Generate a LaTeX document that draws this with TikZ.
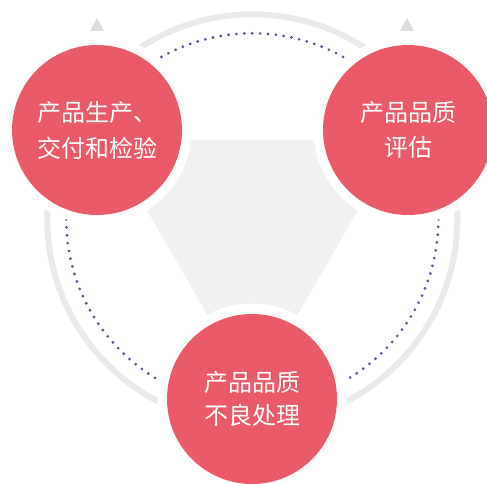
\documentclass[tikz,border=0pt]{standalone}
\usepackage{fontspec}
\newfontfamily\cjk{Noto Sans CJK SC}
\definecolor{petal}{HTML}{EA5A69}
\definecolor{ringgray}{HTML}{EAEAE9}
\definecolor{trigray}{HTML}{F1F1F1}
\definecolor{markgray}{HTML}{DCDCDA}
\definecolor{dotpurple}{HTML}{5A5890}
\begin{document}
\begin{tikzpicture}[x=1pt,y=-1pt,
  petalnode/.style={circle, fill=petal, minimum size=170pt, inner sep=0pt, text=white, align=center},
  ringline/.style={draw=ringgray, line width=6pt},
  dotline/.style={draw=dotpurple, line width=3.1pt, line cap=round, dash pattern=on 0pt off 7.9pt},
  halo/.style={fill=white},
  tipmark/.style={fill=markgray}]
\useasboundingbox (0,0) rectangle (487,484);
\clip (0,0) rectangle (487,484);
\coordinate (O) at (252.3,219.3);
\coordinate (A) at (97,130);
\coordinate (B) at (408,130);
\coordinate (C) at (252,398);
\path[ringline] (O) circle (205pt);
\path[dotline] (O) circle (186pt);
\fill[trigray] (106.5,140) -- (398.5,140) -- (252.5,393) -- cycle;
\foreach \p in {A,B,C} \path[halo] (\p) circle (94.5pt);
\path[tipmark] (90,31) -- (97,18) -- (104,31) -- cycle;
\path[tipmark] (400,31) -- (407,18) -- (414,31) -- cycle;
\node[petalnode, font=\cjk\fontsize{24}{36}\selectfont] (pa) at (A) {产品生产、\\交付和检验};
\node[petalnode, font=\cjk\fontsize{24}{35}\selectfont] (pb) at (B) {产品品质\\评估};
\node[petalnode, font=\cjk\fontsize{24}{33}\selectfont] (pc) at ([yshift=-1pt]C) {产品品质\\不良处理};
\end{tikzpicture}
\end{document}
